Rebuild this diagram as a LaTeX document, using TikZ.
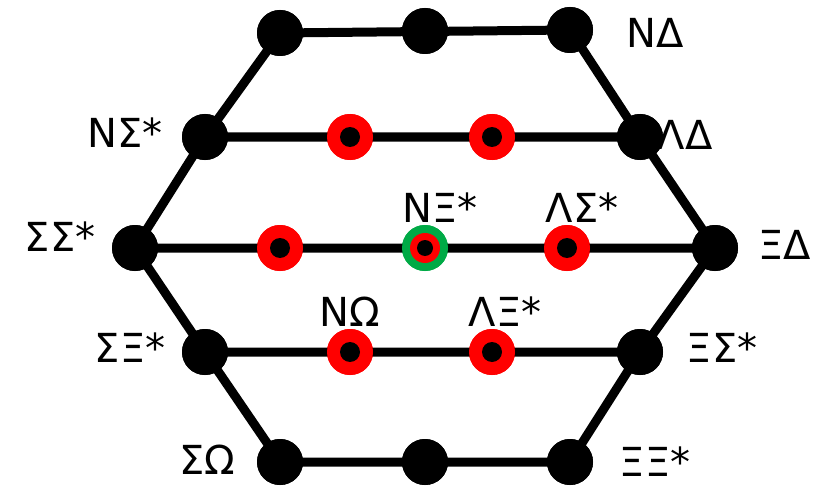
\documentclass[tikz,border=0pt]{standalone}
\usepackage{fontspec}
\setmainfont{DejaVu Sans}
\begin{document}
\begin{tikzpicture}[x=1pt,y=-1pt,
  bd/.style={circle,fill=black,minimum size=46pt,inner sep=0pt},
  rd/.style={circle,fill=red,minimum size=46pt,inner sep=0pt,path picture={\fill[black] (path picture bounding box.center) circle (10pt);}},
  gd/.style={circle,fill={rgb,255:red,0;green,170;blue,70},minimum size=46pt,inner sep=0pt,path picture={\fill[red] (path picture bounding box.center) circle (15pt);\fill[black] (path picture bounding box.center) circle (8pt);}},
  lb/.style={font=\fontsize{40}{40}\selectfont,inner sep=0pt},
  ln/.style={line width=9pt}]
\useasboundingbox (0,0) rectangle (831,495);
\node[bd] (a1) at (280,33) {}; \node[bd] (a2) at (425,31) {}; \node[bd] (a3) at (570,30) {};
\node[bd] (b1) at (205,137) {}; \node[rd] (b2) at (350,137) {}; \node[rd] (b3) at (492,137) {}; \node[bd] (b4) at (640,137) {};
\node[bd] (c1) at (135,248) {}; \node[rd] (c2) at (280,248) {}; \node[gd] (c3) at (425,248) {}; \node[rd] (c4) at (567,248) {}; \node[bd] (c5) at (715,248) {};
\node[bd] (d1) at (205,352) {}; \node[rd] (d2) at (350,352) {}; \node[rd] (d3) at (492,352) {}; \node[bd] (d4) at (640,352) {};
\node[bd] (e1) at (280,462) {}; \node[bd] (e2) at (425,462) {}; \node[bd] (e3) at (570,462) {};
\begin{scope}[on background layer/.style={}]
\end{scope}
\begin{pgfonlayer}{main}\end{pgfonlayer}
\draw[ln] (a1.center)--(a3.center) (b1.center)--(b4.center) (c1.center)--(c5.center) (d1.center)--(d4.center) (e1.center)--(e3.center)
 (a1.center)--(b1.center)--(c1.center)--(d1.center)--(e1.center)
 (a3.center)--(b4.center)--(c5.center)--(d4.center)--(e3.center);
\foreach \n/\s in {a1/bd,a2/bd,a3/bd,b1/bd,b2/rd,b3/rd,b4/bd,c1/bd,c2/rd,c3/gd,c4/rd,c5/bd,d1/bd,d2/rd,d3/rd,d4/bd,e1/bd,e2/bd,e3/bd}
  \node[\s] at (\n) {};
\node[lb] (l1) at (655,33) {NΔ};
\node[lb] (l2) at (125,133) {NΣ*};
\node[lb] (l3) at (685,135) {ΛΔ};
\node[lb] (l4) at (60,237) {ΣΣ*};
\node[lb] (l5) at (440,208) {NΞ*};
\node[lb] (l6) at (582,208) {ΛΣ*};
\node[lb] (l7) at (785,245) {ΞΔ};
\node[lb] (l8) at (130,348) {ΣΞ*};
\node[lb] (l9) at (350,312) {NΩ};
\node[lb] (l10) at (505,312) {ΛΞ*};
\node[lb] (l11) at (722,348) {ΞΣ*};
\node[lb] (l12) at (207,460) {ΣΩ};
\node[lb] (l13) at (655,462) {ΞΞ*};
\end{tikzpicture}
\end{document}
